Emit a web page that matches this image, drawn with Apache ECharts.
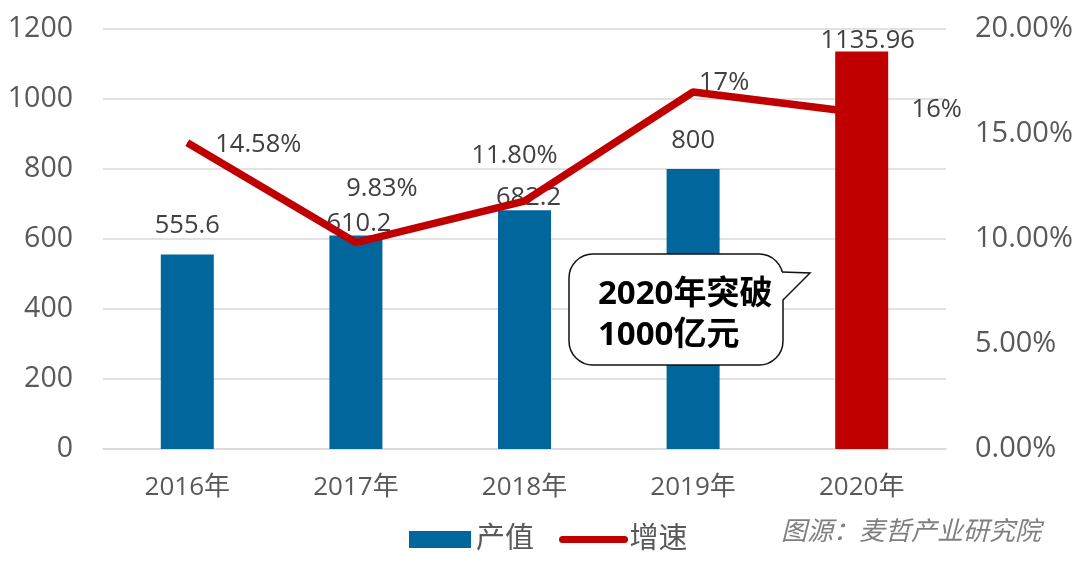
<!DOCTYPE html>
<html>
<head>
<meta charset="UTF-8">
<title>产值与增速</title>
<script src="https://cdn.jsdelivr.net/npm/echarts@6/dist/echarts.min.js"></script>
<style>html,body{margin:0;padding:0;background:#fff}#main{width:1080px;height:571px}</style>
</head>
<body>
<div id="main"></div>
<script>
var categories = ['2016年', '2017年', '2018年', '2019年', '2020年'];
var outputValues = [555.6, 610.2, 682.2, 800, 1135.96];
var growthValues = [14.58, 9.83, 11.80, 17, 16];
var growthLabels = ['14.58%', '9.83%', '11.80%', '17%', '16%'];

var font = '"Open Sans", "Noto Sans CJK SC", sans-serif';
var myChart = echarts.init(document.getElementById('main'));

// 标签位置各不相同，单独偏移
var barOffsets = [[0, -8], [3, 9], [4, 8], [0, -8], [6, 10]];
var lineOffsets = [[71, 20], [26, -36], [-10, -27], [31, 9], [75, 15]];

var option = {
    animation: false,
    grid: {left: 103, right: 134, top: 29, bottom: 122, outerBoundsMode: 'none'},
    legend: {
        data: [
            {name: '产值', icon: 'rect'},
            {name: '增速', itemStyle: {opacity: 0}, lineStyle: {width: 7, cap: 'round', color: '#c00000'}}
        ],
        left: 404, top: 520,
        itemWidth: 62, itemHeight: 17, itemGap: 25,
        textStyle: {fontFamily: font, fontSize: 29, color: '#595959'}
    },
    xAxis: {
        type: 'category',
        data: categories,
        axisTick: {show: false},
        axisLine: {lineStyle: {color: '#d9d9d9', width: 1.5}},
        axisLabel: {fontFamily: font, fontSize: 26, color: '#595959', margin: 26}
    },
    yAxis: [{
        type: 'value', min: 0, max: 1200, interval: 200,
        axisLine: {show: false}, axisTick: {show: false},
        splitLine: {lineStyle: {color: '#d9d9d9', width: 1.5}},
        axisLabel: {
            fontFamily: font, fontSize: 28.5, color: '#595959', margin: 30, padding: [3, 0, 0, 0],
            formatter: function (v) { return String(v); }
        }
    }, {
        type: 'value', min: 0, max: 20, interval: 5,
        axisLine: {show: false}, axisTick: {show: false},
        splitLine: {show: false},
        axisLabel: {
            fontFamily: font, fontSize: 29, color: '#595959', margin: 29, padding: [3, 0, 0, 0],
            formatter: function (v) { return v.toFixed(2) + '%'; }
        }
    }],
    series: [{
        name: '产值', type: 'bar', barWidth: 53,
        itemStyle: {color: '#00669c'},
        data: outputValues.map(function (v, i) {
            return {
                value: v,
                itemStyle: i === 4 ? {color: '#c00000'} : undefined,
                label: {offset: barOffsets[i]}
            };
        }),
        label: {
            show: true, position: 'top', distance: 8,
            fontFamily: font, fontSize: 25.5, color: '#404040'
        }
    }, {
        name: '增速', type: 'line', yAxisIndex: 1,
        symbol: 'circle', symbolSize: 1,
        lineStyle: {color: '#c00000', width: 7.5},
        itemStyle: {color: '#c00000'},
        z: 3,
        data: growthValues.map(function (v, i) {
            return {
                value: v,
                label: {
                    show: true, position: 'top',
                    formatter: growthLabels[i], offset: lineOffsets[i],
                    fontFamily: font, fontSize: 25.5, color: '#404040'
                }
            };
        })
    }],
    graphic: [{
        // 气泡标注：圆角框 + 尾巴
        type: 'rect', z: 10,
        shape: {x: 569, y: 254, width: 214, height: 111, r: 24},
        style: {fill: '#fff', stroke: '#111', lineWidth: 1.5}
    }, {
        type: 'polygon', z: 11,
        shape: {points: [[778, 272], [810, 273], [778, 304]]},
        style: {fill: '#fff'}
    }, {
        type: 'polyline', z: 12,
        shape: {points: [[782, 272], [810, 273], [783, 300]]},
        style: {fill: null, stroke: '#111', lineWidth: 1.5}
    }, {
        type: 'text', z: 13, left: 598, top: 274,
        style: {
            text: '2020年突破\n1000亿元',
            fontFamily: font, fontSize: 33, fontWeight: 'bold', fill: '#000', lineHeight: 41
        }
    }, {
        type: 'text', z: 13, left: 781, top: 517,
        style: {
            text: '图源：麦哲产业研究院',
            fontFamily: '"Noto Sans CJK SC", sans-serif', fontSize: 26, fontStyle: 'italic', fill: '#7f7f7f'
        }
    }]
};
myChart.setOption(option);
</script>
</body>
</html>
